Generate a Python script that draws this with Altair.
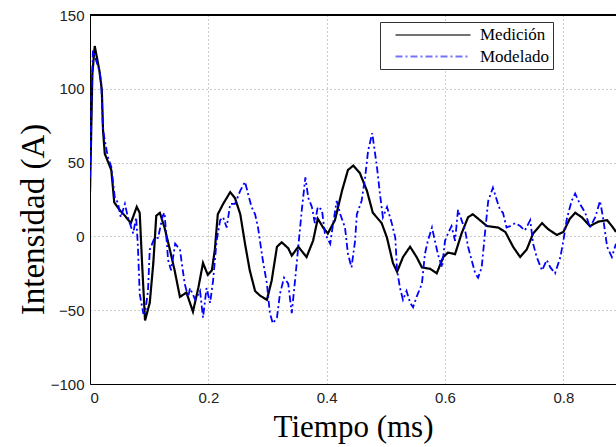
import altair as alt
import pandas as pd

series = ["Medición", "Modelado"]

# Medición (black, solid)
med_t = [0.000, 0.004, 0.008, 0.016, 0.020, 0.022, 0.025, 0.036, 0.041, 0.050, 0.059, 0.069,
         0.079, 0.084, 0.088, 0.093, 0.101, 0.107, 0.112, 0.118, 0.126, 0.135, 0.143, 0.152,
         0.163, 0.174, 0.183, 0.191, 0.199, 0.206, 0.211, 0.216, 0.225, 0.237, 0.245, 0.254,
         0.262, 0.270, 0.279, 0.287, 0.299, 0.307, 0.316, 0.324, 0.335, 0.341, 0.352, 0.366,
         0.377, 0.385, 0.394, 0.402, 0.414, 0.426, 0.436, 0.445, 0.456, 0.468, 0.478, 0.493,
         0.502, 0.512, 0.519, 0.529, 0.541, 0.552, 0.561, 0.575, 0.586, 0.597, 0.605, 0.617,
         0.628, 0.639, 0.647, 0.659, 0.671, 0.690, 0.702, 0.715, 0.727, 0.738, 0.749, 0.764,
         0.774, 0.789, 0.800, 0.811, 0.820, 0.831, 0.845, 0.859, 0.874, 0.884, 0.889]
med_v = [30, 110, 129, 112, 99, 72, 56, 45, 23, 18, 14, 9,
         20, 16, -18, -57, -45, -18, 14, 16, 6, -9, -23, -41,
         -38, -51, -35, -18, -26, -23, -9, 15, 22, 30, 26, 15,
         -5, -23, -37, -40, -43, -30, -7, -4, -8, -13, -7, -14,
         -3, 12, 6, 2, 11, 31, 45, 48, 43, 31, 16, 9,
         -1, -18, -24, -14, -7, -14, -21, -22, -25, -14, -11, -12,
         2, 13, 15, 11, 7, 6, 3, -7, -14, -9, 2, 9,
         5, 1, 3, 12, 16, 13, 7, 10, 11, 6, 3]

# Modelado (blue, dash-dot)
mod_t = [0.000, 0.003, 0.005, 0.016, 0.019, 0.022, 0.030, 0.036, 0.042, 0.047, 0.052, 0.059,
         0.064, 0.073, 0.078, 0.081, 0.084, 0.090, 0.093, 0.098, 0.101, 0.109, 0.115, 0.123,
         0.126, 0.132, 0.137, 0.144, 0.152, 0.160, 0.166, 0.169, 0.178, 0.186, 0.191, 0.197,
         0.203, 0.208, 0.214, 0.220, 0.225, 0.231, 0.237, 0.245, 0.254, 0.262, 0.267, 0.273,
         0.279, 0.284, 0.292, 0.299, 0.304, 0.309, 0.316, 0.321, 0.328, 0.335, 0.341, 0.347,
         0.352, 0.358, 0.364, 0.369, 0.375, 0.380, 0.385, 0.392, 0.397, 0.406, 0.411, 0.417,
         0.423, 0.431, 0.436, 0.442, 0.448, 0.451, 0.459, 0.465, 0.470, 0.477, 0.485, 0.490,
         0.495, 0.502, 0.510, 0.516, 0.519, 0.524, 0.529, 0.535, 0.541, 0.546, 0.552, 0.561,
         0.566, 0.571, 0.578, 0.583, 0.588, 0.595, 0.600, 0.605, 0.611, 0.617, 0.622, 0.628,
         0.634, 0.639, 0.645, 0.651, 0.656, 0.662, 0.668, 0.673, 0.681, 0.688, 0.693, 0.698,
         0.704, 0.710, 0.719, 0.727, 0.735, 0.744, 0.749, 0.755, 0.764, 0.772, 0.778, 0.786,
         0.795, 0.800, 0.806, 0.814, 0.820, 0.828, 0.837, 0.845, 0.854, 0.862, 0.867, 0.874,
         0.882, 0.889]
mod_v = [40, 100, 126, 112, 104, 72, 54, 47, 26, 23, 13, 22,
         13, 2, 13, -7, -39, -52, -52, -37, -9, -1, -1, 14,
         16, -16, -23, -5, -9, -32, -41, -35, -43, -37, -55, -35,
         -45, -30, -3, 11, 13, 6, 22, 22, 31, 37, 29, 20,
         15, 6, -16, -32, -52, -59, -55, -39, -28, -32, -52, -28,
         -7, 18, 40, 26, 20, 9, 20, 18, 2, -5, 9, 24,
         15, 6, -12, -21, -3, 15, 24, 40, 58, 70, 47, 29,
         13, 20, 9, -1, -23, -35, -43, -37, -45, -48, -41, -32,
         -12, -3, 6, -3, -12, -21, -3, 2, 7, -3, 18, 11,
         4, -7, -16, -25, -28, -21, 4, 24, 33, 24, 18, 16,
         6, 7, 9, 7, 4, 11, -5, -14, -23, -16, -21, -25,
         -14, -3, 12, 24, 29, 22, 16, 6, 13, 24, 13, -7,
         -14, -5]

x_ticks = [0, 0.2, 0.4, 0.6, 0.8]
y_ticks = [-100, -50, 0, 50, 100, 150]

df = pd.concat([
    pd.DataFrame({"t": med_t, "v": med_v, "s": series[0]}),
    pd.DataFrame({"t": mod_t, "v": mod_v, "s": series[1]}),
], ignore_index=True)

W, H = 526, 369
pad = "\u00a0" * 12
leg = dict(title=None, orient="none", legendX=290, legendY=7,
           labelExpr="datum.label + '" + pad + "'")

lines = alt.Chart(df).mark_line(clip=True).encode(
    x=alt.X("t:Q",
            scale=alt.Scale(domain=[0, 0.889], nice=False, zero=False),
            axis=alt.Axis(values=x_ticks, format=".1~f", title="Tiempo (ms)",
                          titlePadding=7, titleFontSize=31)),
    y=alt.Y("v:Q",
            scale=alt.Scale(domain=[-100, 150], nice=False),
            axis=alt.Axis(values=y_ticks, title="Intensidad (A)",
                          titleY=204, titlePadding=0, titleFontSize=33)),
    color=alt.Color("s:N", scale=alt.Scale(domain=series, range=["black", "blue"]),
                    sort=series, legend=alt.Legend(**leg)),
    strokeDash=alt.StrokeDash("s:N", scale=alt.Scale(domain=series, range=[[1, 0], [7, 3, 2, 3]]),
                              sort=series, legend=alt.Legend(**leg)),
    strokeWidth=alt.StrokeWidth("s:N", scale=alt.Scale(domain=series, range=[2.2, 1.8]),
                                legend=None),
)

top = alt.Chart(df).mark_rule(color="black", strokeWidth=1).encode(
    x=alt.value(0), x2=alt.value(W), y=alt.value(0)
)

chart = alt.layer(lines, top).properties(
    width=W, height=H,
    autosize=alt.AutoSizeParams(type="none"),
    padding={"left": 90, "top": 15, "right": 0, "bottom": 63},
).configure_view(stroke=None).configure_axis(
    domainColor="black", domainWidth=1, ticks=False,
    grid=True, gridColor="#999999", gridDash=[1, 3], gridWidth=1,
    labelFont="Liberation Sans", labelFontSize=15, labelColor="#222222",
    labelPadding=6,
    titleFont="Liberation Serif", titleFontWeight="normal",
    titleColor="black",
).configure_legend(
    strokeColor="#333333", fillColor="white", padding=4, rowPadding=4,
    symbolType="M-5,0H5", symbolSize=225, symbolStrokeWidth=1.5, symbolOpacity=0.55,
    symbolOffset=40, labelOffset=38,
    labelFont="Liberation Serif", labelFontSize=17, labelColor="black",
)

chart.save("out.html", embed_options={"renderer": "svg", "actions": False})
